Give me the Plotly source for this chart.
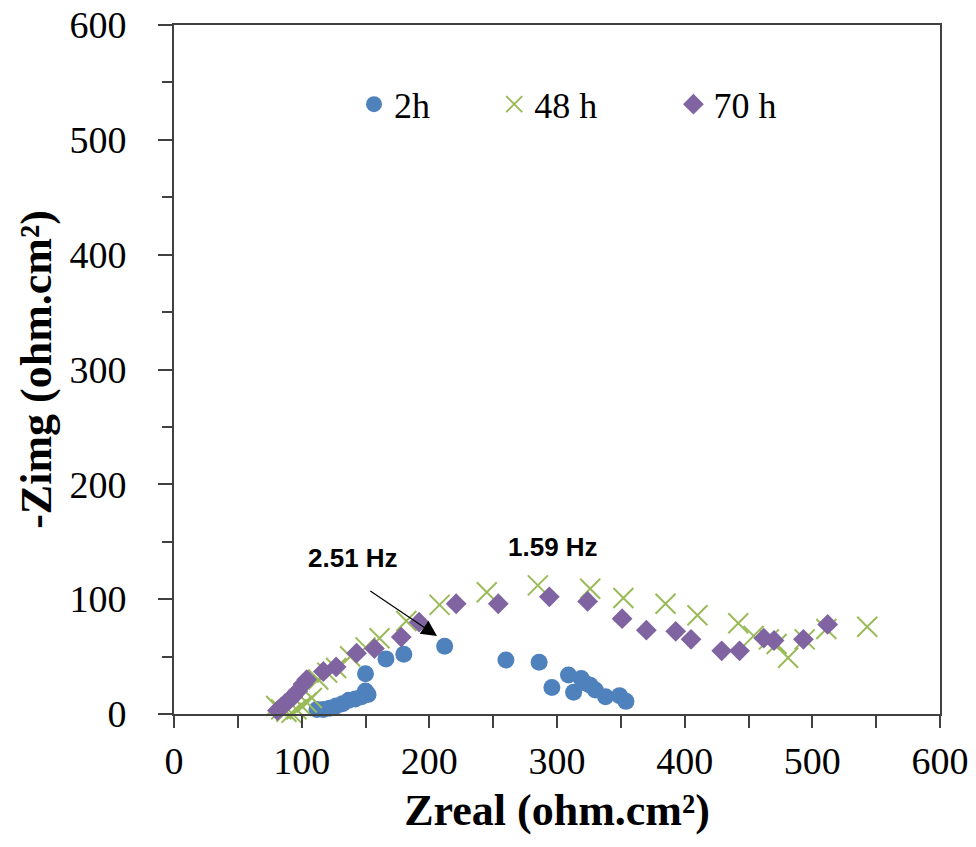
import plotly.graph_objects as go

# ---- data ----
x_2h = [112, 117, 122, 127, 132, 137, 142, 147, 150, 152, 150, 166, 180, 212,
        260, 286, 296, 309, 313, 319, 322, 326, 330, 338, 349, 354]
y_2h = [4, 4, 5, 7, 9, 12, 13, 15, 20, 17, 35, 48, 52, 59,
        47, 45, 23, 34, 19, 31, 27, 25, 21, 15, 16, 11]

x_48h = [80, 84, 88, 92, 96, 100, 104, 108, 113, 120, 127, 138, 150, 161, 182, 208,
         245, 285, 326, 352, 385, 410, 442, 454, 466, 472, 481, 494, 511, 543]
y_48h = [7, 4, 2, 1, 4, 7, 10, 14, 30, 36, 40, 50, 58, 66, 81, 95,
         106, 112, 109, 101, 96, 86, 79, 68, 65, 61, 49, 65, 74, 76]

x_70h = [81, 84, 87, 90, 93, 97, 101, 104, 117, 127, 143, 157, 178, 192, 221, 254,
         294, 324, 351, 370, 393, 405, 429, 443, 462, 470, 493, 512]
y_70h = [3, 6, 9, 12, 15, 20, 26, 30, 37, 41, 53, 57, 67, 80, 96, 96,
         102, 98, 83, 73, 72, 65, 55, 55, 66, 64, 65, 78]

series_names = ["2h", "48 h", "70 h"]
x_ticks = [0, 100, 200, 300, 400, 500, 600]
y_ticks = [0, 100, 200, 300, 400, 500, 600]

SERIF = "Liberation Serif"
SANS = "Liberation Sans"
AXIS_COL = "#404040"

fig = go.Figure()
fig.add_trace(go.Scatter(x=x_2h, y=y_2h, mode="markers", name=series_names[0],
                         marker=dict(symbol="circle", size=17, color="#4F81BD"),
                         cliponaxis=False, legend="legend"))
fig.add_trace(go.Scatter(x=x_48h, y=y_48h, mode="markers", name=series_names[1],
                         marker=dict(symbol="x-thin", size=20, color="#9BBB59",
                                     line=dict(width=2, color="#9BBB59")),
                         cliponaxis=False, legend="legend2"))
fig.add_trace(go.Scatter(x=x_70h, y=y_70h, mode="markers", name=series_names[2],
                         marker=dict(symbol="diamond", size=16, color="#8064A2"),
                         cliponaxis=False, legend="legend3"))

legend_common = dict(orientation="h", yanchor="middle", xanchor="left",
                     bgcolor="rgba(0,0,0,0)", font=dict(family=SERIF, size=36, color="black"),
                     itemsizing="trace")
fig.update_layout(
    legend=dict(x=0.235, y=0.885, **legend_common),
    legend2=dict(x=0.418, y=0.885, **legend_common),
    legend3=dict(x=0.652, y=0.885, **legend_common),
)

axis_common = dict(
    showgrid=False, zeroline=False, showline=True, linecolor=AXIS_COL, linewidth=2,
    mirror=True, ticks="outside", tickcolor=AXIS_COL, tickwidth=2,
    tickfont=dict(family=SERIF, size=38, color="black"),
    range=[0, 600], tickvals=x_ticks, automargin=False,
)
fig.update_xaxes(**axis_common, ticklen=12,
                 minor=dict(dtick=50, ticks="outside", ticklen=12, tickcolor=AXIS_COL, tickwidth=2),
                 title=dict(text="<b>Zreal (ohm.cm²)</b>", font=dict(family=SERIF, size=44, color="black"),
                            standoff=14))
fig.update_yaxes(**axis_common, ticklen=14, ticklabelstandoff=24,
                 minor=dict(dtick=50, ticks="outside", ticklen=10, tickcolor=AXIS_COL, tickwidth=2),
                 title=dict(text="<b>-Zimg (ohm.cm²)</b>", font=dict(family=SERIF, size=44, color="black"),
                            standoff=4))

fig.add_annotation(x=206, y=68, ax=152.6, ay=108, xref="x", yref="y", axref="x", ayref="y",
                   showarrow=True, arrowhead=2, arrowsize=2.6, arrowwidth=1.2, arrowcolor="black",
                   text="")
fig.add_annotation(x=140, y=136, xref="x", yref="y", text="<b>2.51 Hz</b>", showarrow=False,
                   font=dict(family=SANS, size=26, color="black"))
fig.add_annotation(x=297, y=145, xref="x", yref="y", text="<b>1.59 Hz</b>", showarrow=False,
                   font=dict(family=SANS, size=26, color="black"))

fig.update_layout(
    width=976, height=847,
    margin=dict(l=174, r=36, t=25, b=133),
    plot_bgcolor="white", paper_bgcolor="white",
    showlegend=True,
)

fig.write_html("out.html")
